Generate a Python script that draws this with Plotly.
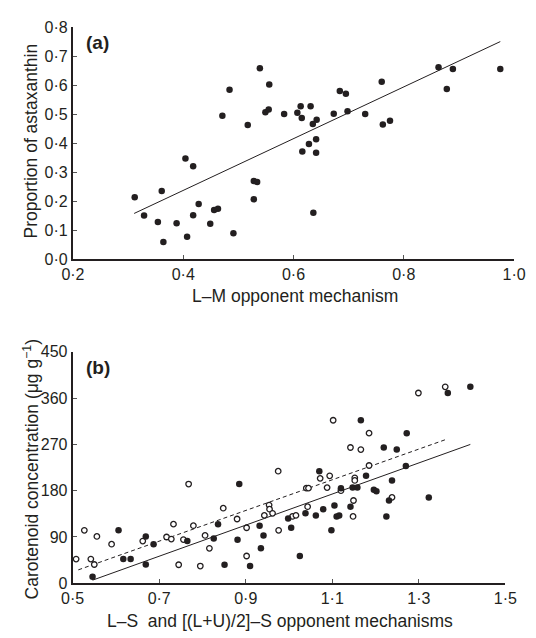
import plotly.graph_objects as go

# ---------------- Panel (a) data ----------------
a_x = [0.539, 0.484, 0.556, 0.760, 0.684, 0.695, 0.863, 0.889, 0.878, 0.975,
       0.471, 0.549, 0.555, 0.583, 0.607, 0.613, 0.631, 0.615, 0.642, 0.635,
       0.673, 0.698, 0.730, 0.762, 0.775, 0.517, 0.628, 0.641, 0.616, 0.641,
       0.404, 0.418, 0.528, 0.534, 0.312, 0.361, 0.428, 0.528, 0.636, 0.329,
       0.354, 0.364, 0.388, 0.407, 0.418, 0.449, 0.456, 0.463, 0.491]
a_y = [0.658, 0.584, 0.602, 0.611, 0.579, 0.570, 0.661, 0.655, 0.586, 0.655,
       0.494, 0.506, 0.516, 0.500, 0.504, 0.527, 0.527, 0.486, 0.480, 0.466,
       0.501, 0.510, 0.500, 0.464, 0.477, 0.462, 0.397, 0.413, 0.371, 0.367,
       0.347, 0.320, 0.269, 0.266, 0.213, 0.235, 0.190, 0.206, 0.160, 0.150,
       0.128, 0.059, 0.124, 0.077, 0.151, 0.122, 0.169, 0.174, 0.089]
a_fit = {"slope": 0.892, "intercept": -0.120, "xmin": 0.311, "xmax": 0.975}

a_xticks = [0.2, 0.4, 0.6, 0.8, 1.0]
a_xticktext = ["0·2", "0·4", "0·6", "0·8", "1·0"]
a_yticks = [0.0, 0.1, 0.2, 0.3, 0.4, 0.5, 0.6, 0.7, 0.8]
a_yticktext = ["0·0", "0·1", "0·2", "0·3", "0·4", "0·5", "0·6", "0·7", "0·8"]

# ---------------- Panel (b) data ----------------
b_filled_x = [0.546, 0.606, 0.617, 0.634, 0.669, 0.669, 0.687, 0.765, 0.826, 0.836,
              0.851, 0.881, 0.885, 0.910, 0.932, 0.935, 0.941, 0.998, 1.005, 1.025,
              1.038, 1.062, 1.070, 1.079, 1.098, 1.105, 1.110, 1.116, 1.120, 1.142,
              1.147, 1.158, 1.178, 1.196, 1.202, 1.238, 1.231, 1.225, 1.270, 1.323,
              1.166, 1.219, 1.249, 1.272, 1.367, 1.419]
b_filled_y = [12.6, 103, 47, 47, 91, 36.5, 76, 82, 87, 115,
              36, 84.5, 193, 33.5, 112, 68, 93, 126, 108, 53,
              136, 132, 218, 144, 103, 151, 130, 132, 185, 149,
              186, 186, 209, 182, 179, 200, 161, 130, 228, 167,
              317, 264, 260, 292, 370, 382]

b_open_x = [0.508, 0.527, 0.542, 0.550, 0.556, 0.590, 0.662, 0.717, 0.728, 0.733,
            0.745, 0.768, 0.756, 0.779, 0.795, 0.806, 0.816, 0.848, 0.880, 0.902,
            0.902, 0.943, 0.954, 0.955, 0.962, 0.975, 0.976, 1.008, 1.016, 1.040,
            1.045, 1.043, 1.072, 1.088, 1.094, 1.120, 1.149, 1.152, 1.152, 1.148,
            1.185, 1.238, 1.102, 1.185, 1.142, 1.166, 1.299, 1.361]
b_open_y = [47, 103, 47, 36.5, 91, 76, 82, 90, 86, 115,
            36, 193, 85, 112, 33.5, 93, 68, 146, 125, 108,
            53, 132, 152, 144, 136, 218, 103, 130, 132, 185,
            185, 149, 204, 186, 209, 180, 161, 205, 200, 130,
            229, 167, 317, 292, 264, 260, 370, 382]

b_fit_solid = {"slope": 302.4, "intercept": -159.1, "xmin": 0.546, "xmax": 1.419}
b_fit_dashed = {"slope": 298.5, "intercept": -127.1, "xmin": 0.513, "xmax": 1.364}

b_xticks = [0.5, 0.7, 0.9, 1.1, 1.3, 1.5]
b_xticktext = ["0·5", "0·7", "0·9", "1·1", "1·3", "1·5"]
b_yticks = [0, 90, 180, 270, 360, 450]
b_yticktext = ["0", "90", "180", "270", "360", "450"]

# ---------------- Figure ----------------
W, H = 536, 638
INK = "#231f20"
FONT = "Liberation Sans, Arial, Helvetica, sans-serif"


def px_x(p):
    return p / W


def px_y(p):
    return 1 - p / H


def fit_line(f):
    xs = [f["xmin"], f["xmax"]]
    ys = [f["slope"] * x + f["intercept"] for x in xs]
    return xs, ys


fig = go.Figure()

# Panel (a)
fig.add_trace(go.Scatter(x=a_x, y=a_y, mode="markers", xaxis="x", yaxis="y",
                         marker=dict(size=6.5, color=INK, line=dict(width=0)),
                         showlegend=False, cliponaxis=False))
lx, ly = fit_line(a_fit)
fig.add_trace(go.Scatter(x=lx, y=ly, mode="lines", xaxis="x", yaxis="y",
                         line=dict(color=INK, width=1), showlegend=False))

# Panel (b)
lx, ly = fit_line(b_fit_dashed)
fig.add_trace(go.Scatter(x=lx, y=ly, mode="lines", xaxis="x2", yaxis="y2",
                         line=dict(color=INK, width=1, dash="4px,3px"), showlegend=False))
lx, ly = fit_line(b_fit_solid)
fig.add_trace(go.Scatter(x=lx, y=ly, mode="lines", xaxis="x2", yaxis="y2",
                         line=dict(color=INK, width=1), showlegend=False))
fig.add_trace(go.Scatter(x=b_open_x, y=b_open_y, mode="markers", xaxis="x2", yaxis="y2",
                         marker=dict(size=5.5, color="white", line=dict(width=1.3, color=INK)),
                         showlegend=False, cliponaxis=False))
fig.add_trace(go.Scatter(x=b_filled_x, y=b_filled_y, mode="markers", xaxis="x2", yaxis="y2",
                         marker=dict(size=6.5, color=INK, line=dict(width=0)),
                         showlegend=False, cliponaxis=False))

axis_common = dict(showgrid=False, zeroline=False, showline=True, linecolor=INK,
                   linewidth=2, ticks="inside", ticklen=4, tickwidth=1.2,
                   tickcolor="#555555", tickfont=dict(family=FONT, size=16, color=INK),
                   tickmode="array")

fig.update_layout(
    width=W, height=H,
    margin=dict(l=0, r=0, t=0, b=0),
    paper_bgcolor="white", plot_bgcolor="white",
    font=dict(family=FONT, color=INK),
    xaxis=dict(domain=[px_x(63.8), px_x(525.6)], range=[0.2, 1.0], anchor="y",
               tickvals=a_xticks, ticktext=a_xticktext, **axis_common),
    yaxis=dict(domain=[px_y(258), px_y(19.5)], range=[0.0, 0.8], anchor="x",
               tickvals=a_yticks, ticktext=a_yticktext, **axis_common),
    xaxis2=dict(domain=[px_x(63.5), px_x(516.5)], range=[0.5, 1.5], anchor="y2",
                tickvals=b_xticks, ticktext=b_xticktext, **axis_common),
    yaxis2=dict(domain=[px_y(591), px_y(353.3)], range=[0, 450], anchor="x2",
                tickvals=b_yticks, ticktext=b_yticktext, **axis_common),
)

annotations = [
    dict(text="<b>(a)</b>", x=px_x(75), y=px_y(35), xanchor="left", yanchor="middle",
         font=dict(size=19)),
    dict(text="<b>(b)</b>", x=px_x(75), y=px_y(369), xanchor="left", yanchor="middle",
         font=dict(size=19)),
    dict(text="Proportion of astaxanthin", x=px_x(20), y=px_y(137), textangle=-90,
         xanchor="center", yanchor="middle", font=dict(size=17.5)),
    dict(text="L–M opponent mechanism", x=px_x(296), y=px_y(296),
         xanchor="center", yanchor="middle", font=dict(size=17.5)),
    dict(text="Carotenoid concentration (μg g<sup>−1</sup>)", x=px_x(20), y=px_y(474),
         textangle=-90, xanchor="center", yanchor="middle", font=dict(size=17.5)),
    dict(text="L–S  and [(L+U)/2]–S opponent mechanisms", x=px_x(281), y=px_y(630),
         xanchor="center", yanchor="middle", font=dict(size=17.5)),
]
for a in annotations:
    a.update(xref="paper", yref="paper", showarrow=False)
    a["font"].update(family=FONT, color=INK)
fig.update_layout(annotations=annotations)

fig.write_html("out.html")
